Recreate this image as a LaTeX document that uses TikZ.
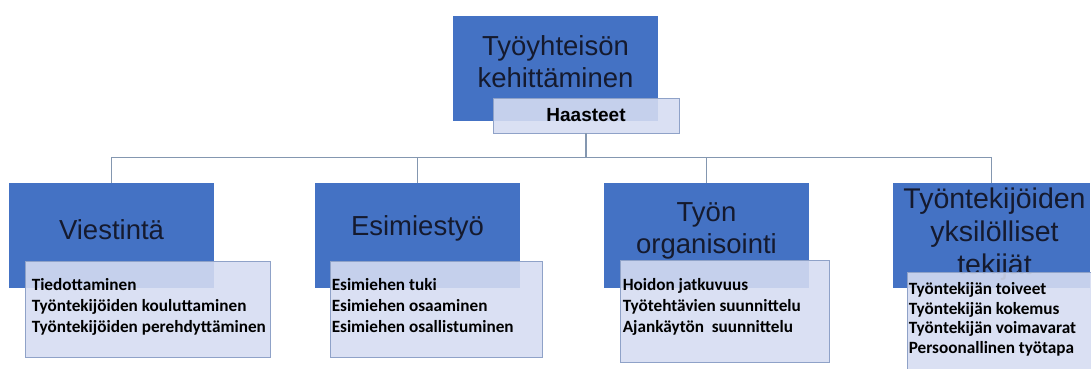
\documentclass[tikz,border=0pt]{standalone}
\usepackage{fontspec}
\setmainfont{Liberation Sans}
\newfontfamily\itemfont{Carlito}
\usetikzlibrary{positioning}

\definecolor{orgblue}{HTML}{4472C4}
\definecolor{orglight}{HTML}{D5DCF1}
\definecolor{orgedge}{HTML}{8FA2C8}
\definecolor{orgline}{HTML}{8497B0}
\definecolor{orgtext}{HTML}{151A2E}

\tikzset{
  darkbox/.style={fill=orgblue,draw=none,inner sep=0pt,minimum width=205pt,minimum height=105pt},
  lightbox/.style={fill=orglight,fill opacity=0.89,draw=orgedge,line width=0.9pt,inner sep=0pt},
  headtext/.style={text=orgtext,align=center,inner sep=0pt,font=\fontsize{27.5}{32}\selectfont},
  itemtext/.style={anchor=north west,align=left,inner sep=0pt,font=\itemfont\bfseries\fontsize{17.2}{21}\selectfont},
  conn/.style={draw=orgline,line width=1.1pt}
}

\begin{document}
\begin{tikzpicture}[x=1pt,y=1pt]
  \useasboundingbox (0,0) rectangle (1091,369);
  \clip (0,0) rectangle (1091,369);
  % top box
  \node[darkbox] (top) at (555.5,300.5) {};
  \node[headtext] (topt) at ([yshift=7pt]top.center) {Työyhteisön\\kehittäminen};
  \node[lightbox,minimum width=186pt,minimum height=35pt] (hst) at (586,253.5) {};
  \node[inner sep=0pt,font=\bfseries\fontsize{19}{22}\selectfont] (hstt) at (hst.center) {Haasteet};
  % four branch boxes
  \node[darkbox] (v1) at (111.5,133.5) {};
  \node[darkbox] (v2) at (417.5,133.5) {};
  \node[darkbox] (v3) at (706.5,133.5) {};
  \node[darkbox,minimum width=197pt] (v4) at (991.5,133.5) {};
  \node[headtext] (v1t) at ([yshift=5.5pt]v1.center) {Viestintä};
  \node[headtext] (v2t) at ([yshift=7pt]v2.center) {Esimiestyö};
  \node[headtext] (v3t) at ([yshift=4.5pt]v3.center) {Työn\\organisointi};
  \node[headtext,font=\fontsize{28.5}{33}\selectfont] (v4t) at ([xshift=3pt,yshift=1pt]v4.center) {Työntekijöiden\\yksilölliset\\tekijät};
  % connectors
  \coordinate (bus) at ([yshift=-24pt]hst.south);
  \draw[conn] (hst.south) -- (bus);
  \draw[conn] (v1.north) |- (bus) -| (v4.north);
  \draw[conn] (v2.north) -- (v2.north |- bus);
  \draw[conn] (v3.north) -- (v3.north |- bus);
  % lists
  \node[lightbox,minimum width=245pt,minimum height=96pt] (l1) at (147.5,60) {};
  \node[lightbox,minimum width=212pt,minimum height=96pt] (l2) at (436,60) {};
  \node[lightbox,minimum width=209pt,minimum height=102pt] (l3) at (724.5,58) {};
  \node[lightbox,minimum width=200pt,minimum height=108pt] (l4) at (1007,43) {};
  \node[itemtext] (l1t) at ([xshift=7pt,yshift=-18pt]l1.north west)
    {Tiedottaminen\\Työntekijöiden kouluttaminen\\Työntekijöiden perehdyttäminen};
  \node[itemtext] (l2t) at ([xshift=2pt,yshift=-18pt]l2.north west)
    {Esimiehen tuki\\Esimiehen osaaminen\\Esimiehen osallistuminen};
  \node[itemtext] (l3t) at ([xshift=3pt,yshift=-19pt]l3.north west)
    {Hoidon jatkuvuus\\Työtehtävien suunnittelu\\Ajankäytön\ \ suunnittelu};
  \node[itemtext,font=\itemfont\bfseries\fontsize{17.2}{19.5}\selectfont] (l4t) at ([xshift=2pt,yshift=-11pt]l4.north west)
    {Työntekijän toiveet\\Työntekijän kokemus\\Työntekijän voimavarat\\Persoonallinen työtapa};
\end{tikzpicture}
\end{document}
